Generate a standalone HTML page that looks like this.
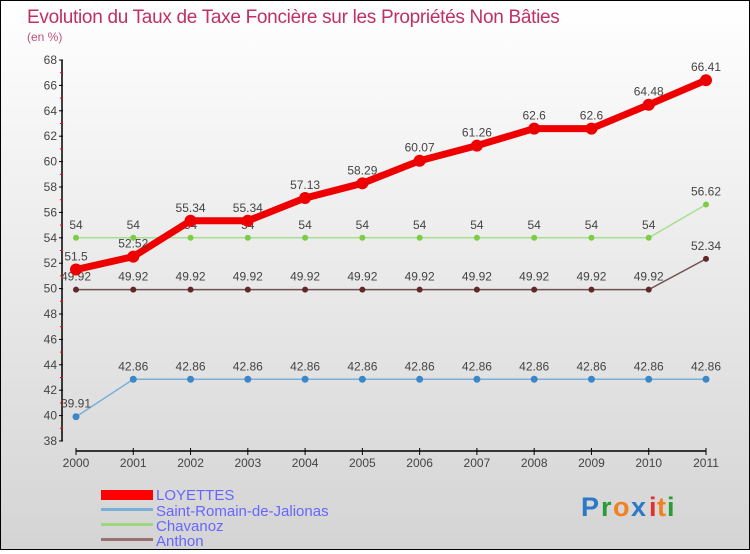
<!DOCTYPE html>
<html><head><meta charset="utf-8"><style>
html,body{margin:0;padding:0}
body{width:750px;height:550px;overflow:hidden;font-family:"Liberation Sans",sans-serif}
#wrap{position:relative;width:748px;height:548px;border:1px solid #000;background:linear-gradient(#ffffff,#d4d4d4)}
svg text{font-family:"Liberation Sans",sans-serif}
</style></head><body>
<div id="wrap">
<svg id="chart" width="748" height="548">
<text x="26" y="22" font-size="19" fill="#c03060" style="letter-spacing:-0.3px">Evolution du Taux de Taxe Foncière sur les Propriétés Non Bâties</text>
<text x="26" y="40" font-size="12" fill="#c05080">(en %)</text>
<g id="axes"></g><g id="series"></g>
<g>
<rect x="100" y="489" width="52" height="10" fill="#ff0000"/>
<text x="155" y="499" font-size="15" fill="#6666ff">LOYETTES</text>
<rect x="100" y="507" width="52" height="3" fill="#7aafd8"/>
<text x="155" y="515" font-size="15" fill="#6666ff">Saint-Romain-de-Jalionas</text>
<rect x="100" y="522" width="52" height="3" fill="#9dd880"/>
<text x="155" y="530" font-size="15" fill="#6666ff">Chavanoz</text>
<rect x="100" y="537" width="52" height="3" fill="#9a7070"/>
<text x="155" y="545" font-size="15" fill="#6666ff">Anthon</text>
</g>
<g font-size="27" font-weight="bold">
<text x="580" y="515" fill="#2a7ac8">P</text><text x="600" y="515" fill="#2a9a3a">r</text><text x="612" y="515" fill="#f08020">o</text><text x="630" y="515" fill="#2a7ac8">x</text><text x="648" y="515" fill="#e03030">i</text><text x="656" y="515" fill="#f08020">t</text><text x="666" y="515" fill="#2a9a3a">i</text>
</g>
</svg></div>
<script>
const years=[2000,2001,2002,2003,2004,2005,2006,2007,2008,2009,2010,2011];
const loyettes=[51.5,52.52,55.34,55.34,57.13,58.29,60.07,61.26,62.6,62.6,64.48,66.41];
const saintRomain=[39.91,42.86,42.86,42.86,42.86,42.86,42.86,42.86,42.86,42.86,42.86,42.86];
const chavanoz=[54,54,54,54,54,54,54,54,54,54,54,56.62];
const anthon=[49.92,49.92,49.92,49.92,49.92,49.92,49.92,49.92,49.92,49.92,49.92,52.34];
const yTicks=[38,40,42,44,46,48,50,52,54,56,58,60,62,64,66,68];
const NS="http://www.w3.org/2000/svg";
const yMin=38,yMax=68,yTop=59,yBot=440;
function y(v){return yBot-(v-yMin)/(yMax-yMin)*(yBot-yTop);}
function x(i){return 75+i*(705-75)/(years.length-1);}
function mk(tag,at,parent){const e=document.createElementNS(NS,tag);for(const k in at)e.setAttribute(k,at[k]);parent.appendChild(e);return e;}
const axes=document.getElementById('axes'),ser=document.getElementById('series');
const ya=mk('line',{x1:61,y1:yTop,x2:61,y2:yBot,stroke:'#000','stroke-width':1.5},axes);


yTicks.forEach(t=>{
 mk('line',{x1:58,x2:62,y1:y(t),y2:y(t),stroke:'#000'},axes);
 if(t<yMax)mk('line',{x1:59,x2:62,y1:y(t+1),y2:y(t+1),stroke:'#f00'},axes);
 const l=mk('text',{x:56,y:y(t)+4,'font-size':12,fill:'#444','text-anchor':'end'},axes);
 l.textContent=t;
 
 
});
const xa=mk('line',{x1:75,y1:450,x2:705,y2:450,stroke:'#000','stroke-width':1.5},axes);


years.forEach((yr,i)=>{
 mk('line',{x1:x(i),x2:x(i),y1:447,y2:454,stroke:'#000'},axes);
 const l=mk('text',{x:x(i),y:466,'font-size':12,fill:'#444','text-anchor':'middle'},axes);
 l.textContent=yr;
 
 
});
function draw(vals,name,color,dot,lw,r,fs){
 const g=mk('g',{},ser);
 
 
 const pl=mk('polyline',{points:vals.map((v,i)=>x(i)+','+y(v)).join(' '),fill:'none',stroke:color,'stroke-width':lw,'stroke-linejoin':'round'},g);
 
 
 vals.forEach((v,i)=>{
  const c=mk('circle',{cx:x(i),cy:y(v),r:r,fill:dot},g);
  
  
  const t=mk('text',{x:x(i),y:y(v)-9,'font-size':fs,fill:'#444','text-anchor':'middle'},g);
  t.textContent=String(v);
  
  
 });
}
draw(saintRomain,'saint-romain','#7aafd8','#3a88c8',1.5,3.5,12);
draw(anthon,'anthon','#705050','#602828',1.5,3,12);
draw(chavanoz,'chavanoz','#a8e090','#7ccc44',1.5,3,12);
draw(loyettes,'loyettes','#ee0000','#ee0000',7,6,12);
</script>
</body></html>
